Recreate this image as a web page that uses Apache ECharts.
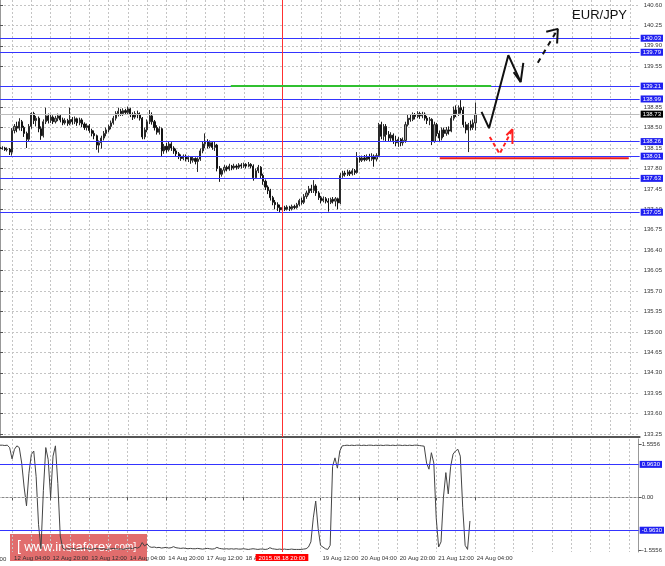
<!DOCTYPE html>
<html><head><meta charset="utf-8">
<script src="https://cdn.jsdelivr.net/npm/echarts@6/dist/echarts.min.js"></script>
<style>html,body{margin:0;padding:0;background:#fff}#c{width:665px;height:566px}</style>
</head><body><div id="c"></div>
<script>
// ---------- data ----------
const timeTicks = ['12 Aug 04:00','12 Aug 20:00','13 Aug 12:00','14 Aug 04:00','14 Aug 20:00','17 Aug 12:00','18 Aug 04:00','18 Aug 20:00','19 Aug 12:00','20 Aug 04:00','20 Aug 20:00','21 Aug 12:00','24 Aug 04:00'];
const firstTickBar = 5, barsPerTick = 16, barsPerGrid = 8, totalSlots = 266;
const markerBar = 117;           // vertical red line: 2015.08.18 20:00
const markerLabel = '2015.08.18 20:00';
const priceTicks = [133.25,133.60,133.95,134.30,134.65,135.00,135.35,135.70,136.05,136.40,136.75,137.10,137.45,137.80,138.15,138.50,138.85,139.20,139.55,139.90,140.25,140.60];
const levels = [140.03,139.79,139.21,138.99,138.26,138.01,137.63,137.05];
const lastPrice = 138.73;
const indTicks = [-1.5556, 0, 1.5556];
const indLevels = [0.9630, -0.9630];
// [open, close, low, high]
const ohlc = [
[138.16,138.14,138.11,138.19],[138.14,138.15,138.12,138.18],[138.15,138.12,138.10,138.17],[138.12,138.13,138.09,138.16],[138.13,138.08,138.03,138.15],
[138.08,138.45,138.02,138.49],[138.45,138.52,138.40,138.56],[138.52,138.49,138.42,138.60],[138.49,138.60,138.45,138.66],[138.60,138.50,138.44,138.63],
[138.50,138.40,138.34,138.53],[138.40,138.30,138.15,138.43],[138.30,138.52,138.27,138.56],[138.52,138.74,138.48,138.76],[138.74,138.62,138.56,138.77],
[138.62,138.66,138.52,138.70],[138.66,138.48,138.42,138.69],[138.48,138.36,138.29,138.52],[138.36,138.60,138.33,138.64],[138.60,138.70,138.56,138.84],
[138.70,138.62,138.57,138.74],[138.62,138.68,138.58,138.72],[138.68,138.60,138.56,138.71],[138.60,138.66,138.57,138.70],[138.66,138.70,138.61,138.74],
[138.70,138.63,138.59,138.73],[138.63,138.58,138.54,138.67],[138.58,138.62,138.55,138.66],[138.62,138.57,138.53,138.65],[138.57,138.64,138.54,138.84],
[138.64,138.60,138.55,138.68],[138.60,138.65,138.56,138.69],[138.65,138.58,138.53,138.67],[138.58,138.63,138.54,138.67],[138.63,138.56,138.51,138.66],
[138.56,138.50,138.46,138.59],[138.50,138.53,138.45,138.57],[138.53,138.45,138.41,138.56],[138.45,138.40,138.35,138.48],[138.40,138.36,138.30,138.45],
[138.36,138.20,138.12,138.38],[138.20,138.24,138.07,138.28],[138.24,138.32,138.14,138.36],[138.32,138.40,138.28,138.44],[138.40,138.46,138.35,138.50],
[138.46,138.52,138.42,138.55],[138.52,138.58,138.47,138.62],[138.58,138.66,138.55,138.70],[138.66,138.74,138.62,138.78],[138.74,138.78,138.69,138.84],
[138.78,138.74,138.70,138.82],[138.74,138.79,138.70,138.83],[138.79,138.76,138.72,138.82],[138.76,138.82,138.73,138.86],[138.82,138.72,138.68,138.84],
[138.72,138.68,138.63,138.76],[138.68,138.74,138.65,138.78],[138.74,138.72,138.66,138.79],[138.72,138.66,138.62,138.76],[138.66,138.34,138.30,138.68],
[138.34,138.46,138.30,138.50],[138.46,138.60,138.42,138.64],[138.60,138.70,138.56,138.80],[138.70,138.60,138.55,138.76],[138.60,138.50,138.45,138.63],
[138.50,138.42,138.38,138.54],[138.42,138.48,138.38,138.52],[138.48,138.10,138.00,138.50],[138.10,138.18,138.05,138.22],[138.18,138.12,138.07,138.24],
[138.12,138.22,138.09,138.27],[138.22,138.15,138.10,138.25],[138.15,138.10,138.05,138.18],[138.10,138.05,138.00,138.14],[138.05,138.00,137.96,138.08],
[138.00,137.97,137.93,138.04],[137.97,138.01,137.94,138.04],[138.01,137.96,137.92,138.04],[137.96,137.99,137.91,138.02],[137.99,137.94,137.88,138.01],
[137.94,137.97,137.90,138.00],[137.97,137.92,137.87,137.99],[137.92,137.96,137.74,137.99],[137.96,138.10,137.93,138.14],[138.10,138.22,138.06,138.26],
[138.22,138.26,138.15,138.40],[138.26,138.18,138.14,138.30],[138.18,138.24,138.15,138.28],[138.24,138.16,138.12,138.27],[138.16,138.20,138.10,138.27],
[138.20,137.80,137.75,138.22],[137.80,137.70,137.57,137.84],[137.70,137.77,137.66,137.80],[137.77,137.82,137.73,137.86],[137.82,137.79,137.75,137.85],
[137.79,137.84,137.76,137.88],[137.84,137.81,137.77,137.86],[137.81,137.84,137.78,137.88],[137.84,137.82,137.78,137.87],[137.82,137.86,137.79,137.89],
[137.86,137.84,137.80,137.89],[137.84,137.87,137.81,137.90],[137.87,137.84,137.80,137.89],[137.84,137.87,137.82,137.91],[137.87,137.84,137.80,137.89],
[137.84,137.64,137.59,137.87],[137.64,137.76,137.62,137.80],[137.76,137.82,137.72,137.86],[137.82,137.68,137.63,137.84],[137.68,137.58,137.52,137.71],
[137.58,137.48,137.43,137.61],[137.48,137.42,137.36,137.51],[137.42,137.30,137.25,137.45],[137.30,137.22,137.17,137.33],[137.22,137.18,137.10,137.26],
[137.18,137.13,137.07,137.22],[137.13,137.09,137.05,137.18],[137.09,137.13,137.06,137.17],[137.13,137.10,137.07,137.16],[137.10,137.14,137.08,137.17],
[137.14,137.11,137.07,137.16],[137.11,137.15,137.08,137.18],[137.15,137.13,137.10,137.18],[137.13,137.18,137.11,137.21],[137.18,137.25,137.15,137.28],
[137.25,137.22,137.18,137.30],[137.22,137.32,137.19,137.36],[137.32,137.38,137.28,137.42],[137.38,137.45,137.34,137.50],[137.45,137.42,137.38,137.52],
[137.42,137.50,137.38,137.60],[137.50,137.38,137.33,137.53],[137.38,137.30,137.26,137.41],[137.30,137.25,137.20,137.33],[137.25,137.28,137.22,137.32],
[137.28,137.24,137.20,137.31],[137.24,137.22,137.06,137.29],[137.22,137.27,137.19,137.30],[137.27,137.24,137.20,137.31],[137.24,137.28,137.15,137.31],
[137.28,137.21,137.10,137.30],[137.21,137.68,137.19,137.72],[137.68,137.72,137.64,137.76],[137.72,137.70,137.66,137.76],[137.70,137.74,137.67,137.78],
[137.74,137.71,137.67,137.77],[137.71,137.76,137.68,137.80],[137.76,137.73,137.69,137.79],[137.73,137.98,137.71,138.08],[137.98,137.94,137.90,138.02],
[137.94,137.98,137.91,138.02],[137.98,137.95,137.92,138.03],[137.95,138.00,137.93,138.04],[138.00,137.96,137.92,138.05],[137.96,138.01,137.93,138.06],
[138.01,137.96,137.83,138.04],[137.96,138.02,137.92,138.06],[138.02,138.55,138.00,138.58],[138.55,138.35,138.30,138.60],[138.35,138.52,138.28,138.56],
[138.52,138.38,138.26,138.56],[138.38,138.32,138.27,138.44],[138.32,138.37,138.26,138.42],[138.37,138.28,138.22,138.40],[138.28,138.24,138.18,138.36],
[138.24,138.30,138.17,138.34],[138.30,138.24,138.18,138.32],[138.24,138.28,138.19,138.33],[138.28,138.55,138.24,138.60],[138.55,138.66,138.52,138.72],
[138.66,138.64,138.60,138.72],[138.64,138.72,138.61,138.76],[138.72,138.69,138.64,138.75],[138.69,138.74,138.66,138.78],[138.74,138.70,138.65,138.77],
[138.70,138.73,138.66,138.77],[138.73,138.66,138.62,138.76],[138.66,138.62,138.56,138.70],[138.62,138.64,138.54,138.68],[138.64,138.26,138.20,138.66],
[138.26,138.55,138.24,138.60],[138.55,138.40,138.35,138.58],[138.40,138.32,138.25,138.45],[138.32,138.46,138.28,138.50],[138.46,138.40,138.34,138.50],
[138.40,138.46,138.36,138.51],[138.46,138.44,138.38,138.52],[138.44,138.66,138.42,138.70],[138.66,138.80,138.62,138.86],[138.80,138.74,138.68,138.88],
[138.74,138.84,138.70,138.88],[138.84,138.80,138.74,138.97],[138.80,138.55,138.50,138.86],[138.55,138.46,138.40,138.60],[138.46,138.55,138.08,138.58],
[138.55,138.50,138.45,138.62],[138.50,138.58,138.46,138.64],[138.58,138.73,138.45,138.93]
];
const indicator = [
1.52,1.52,1.51,1.52,1.45,1.12,1.40,1.50,1.45,1.00,
0.30,-0.25,0.70,1.25,1.35,0.60,-0.80,-1.50,0.20,1.45,
1.10,0.00,1.20,1.50,0.40,-1.13,-1.48,-1.52,-1.50,-1.51,
-1.49,-1.50,-1.52,-1.51,-1.50,-1.48,-1.50,-1.51,-1.52,-1.50,
-1.49,-1.50,-1.51,-1.50,-1.52,-1.51,-1.50,-1.49,-1.50,-1.51,
-1.50,-1.52,-1.50,-1.49,-1.48,-1.50,-1.46,-1.48,-1.45,-1.32,
-1.42,-1.36,-1.44,-1.46,-1.45,-1.47,-1.46,-1.48,-1.47,-1.46,
-1.48,-1.47,-1.44,-1.47,-1.48,-1.49,-1.48,-1.49,-1.50,-1.49,
-1.50,-1.50,-1.49,-1.50,-1.51,-1.50,-1.49,-1.50,-1.51,-1.50,
-1.46,-1.49,-1.50,-1.51,-1.50,-1.51,-1.50,-1.51,-1.50,-1.51,
-1.51,-1.50,-1.51,-1.52,-1.51,-1.50,-1.51,-1.52,-1.51,-1.51,
-1.52,-1.51,-1.47,-1.50,-1.51,-1.52,-1.51,-1.52,-1.51,-1.52,
-1.52,-1.51,-1.52,-1.52,-1.52,-1.52,-1.51,-1.50,-1.45,-1.30,
-0.60,-0.11,-0.90,-1.40,-1.45,-1.50,-1.52,-1.40,0.90,1.15,
0.85,1.35,1.50,1.51,1.52,1.51,1.52,1.51,1.52,1.52,
1.51,1.52,1.51,1.52,1.52,1.51,1.52,1.51,1.52,1.51,
1.52,1.52,1.51,1.52,1.51,1.52,1.52,1.51,1.52,1.51,
1.52,1.51,1.52,1.52,1.51,1.50,1.49,1.00,0.82,1.30,
1.00,-0.60,-1.45,-1.30,0.00,0.72,0.10,0.90,1.26,1.35,
1.40,1.20,-0.30,-1.40,-1.52,-0.69
];
// annotations: [bar position, price]
const greenLevel = [[95.6,139.21],[203.5,139.21]];
const redLevel = [[182.2,137.975],[260.5,137.975]];
const blackPath = [[199.5,138.77],[202.6,138.49],[210.6,139.74],[215.7,139.28]];
const blackHead = [[212.8,139.45],[215.7,139.28],[216.8,139.61]];
const dashPath = [[222.8,139.61],[231.1,140.19]];
const dashHead = [[226.3,140.14],[231.1,140.19],[230.8,139.94]];
const redPath = [[202.9,138.34],[207.0,138.05],[212.3,138.47]];
const redHead = [[209.8,138.37],[212.3,138.47],[212.3,138.22]];

// ---------- chart ----------
const FONT = 'Liberation Sans';
const categories = [];
for (let i = 0; i < totalSlots; i++) {
  const k = (i - firstTickBar) / barsPerTick;
  categories.push(Number.isInteger(k) && k >= 0 && k < timeTicks.length ? timeTicks[k] : '');
}
const isGrid = (i) => (i - firstTickBar) % barsPerGrid === 0;
const isLabel = (i) => categories[i] !== '' && i !== markerBar;
const gridLine = {show: true, interval: isGrid, lineStyle: {color: '#c4c4c4', type: [2, 2], width: 1}};
const chart = echarts.init(document.getElementById('c'), null, {renderer: 'canvas'});

function levelLine(v, color, bg) {
  return {yAxis: v, lineStyle: {color: color, width: 1, type: 'solid'},
    label: {formatter: v.toFixed(2), backgroundColor: bg}};
}
function annot(data, color, type, width) {
  return {type: 'line', xAxisIndex: 1, yAxisIndex: 0, data: data, symbol: 'none', silent: true,
    lineStyle: {color: color, width: width, type: type}, z: 10, animation: false};
}

chart.setOption({
  animation: false,
  backgroundColor: '#ffffff',
  title: {text: 'EUR/JPY', right: 33, top: 4,
    textStyle: {fontFamily: FONT, fontSize: 13, fontWeight: 'normal', color: '#111'}},
  grid: [
    {left: 0, right: 25, top: 0, height: 437},
    {left: 0, right: 25, top: 439, height: 113}
  ],
  xAxis: [
    {type: 'category', gridIndex: 0, data: categories, boundaryGap: false,
     axisLine: {show: true, lineStyle: {color: '#555', width: 2}}, axisTick: {show: false},
     axisLabel: {show: false}, splitLine: gridLine},
    {type: 'value', gridIndex: 0, min: 0, max: totalSlots - 1, show: false},
    {type: 'category', gridIndex: 1, data: categories, boundaryGap: false,
     axisLine: {show: true, lineStyle: {color: '#888', width: 1}},
     axisTick: {show: true, interval: isLabel, length: 3, lineStyle: {color: '#555'}},
     axisLabel: {show: true, interval: isLabel, align: 'left', margin: 3, padding: [0, 0, 0, 2],
       fontFamily: FONT, fontSize: 6, color: '#333'},
     splitLine: gridLine}
  ],
  yAxis: [
    {type: 'value', gridIndex: 0, position: 'right', min: 133.20, max: 140.685, scale: true,
     axisLine: {show: true, lineStyle: {color: '#999', width: 1}},
     axisTick: {show: true, customValues: priceTicks, length: 3, lineStyle: {color: '#555'}},
     axisLabel: {customValues: priceTicks, formatter: (v) => v.toFixed(2), margin: 4,
       fontFamily: FONT, fontSize: 6, color: '#333'},
     splitLine: {show: true, lineStyle: {color: '#c4c4c4', type: [2, 2], width: 1}}},
    {type: 'value', gridIndex: 1, position: 'right', min: -1.595, max: 1.70,
     axisLine: {show: true, lineStyle: {color: '#999', width: 1}},
     axisTick: {show: true, customValues: indTicks, length: 3, lineStyle: {color: '#555'}},
     axisLabel: {customValues: indTicks, formatter: (v) => v === 0 ? '0.00' : v.toFixed(4), margin: 3,
       fontFamily: FONT, fontSize: 6, color: '#333'},
     splitLine: {show: false}}
  ],
  series: [
    {type: 'candlestick', xAxisIndex: 0, yAxisIndex: 0, data: ohlc, barWidth: 1.6, silent: true,
     itemStyle: {color: '#9c9c9c', color0: '#151515', borderColor: '#2a2a2a', borderColor0: '#151515', borderWidth: 1},
     markLine: {silent: true, symbol: ['none', 'none'], animation: false,
       label: {position: 'end', distance: 1, color: '#fff', fontFamily: FONT, fontSize: 6, padding: [1, 2, 0, 2]},
       data: levels.map(v => levelLine(v, '#3434ff', '#2020f0'))
         .concat([levelLine(lastPrice, '#bdbdbd', '#000000'),
           {xAxis: markerBar, lineStyle: {color: '#ff3030', width: 1, type: 'solid'}, label: {show: false}}])}},
    {type: 'line', xAxisIndex: 2, yAxisIndex: 1, data: indicator, symbol: 'none', silent: true,
     lineStyle: {color: '#444', width: 1},
     markLine: {silent: true, symbol: ['none', 'none'], animation: false,
       label: {position: 'end', distance: 1, color: '#fff', fontFamily: FONT, fontSize: 6, padding: [1, 2, 0, 2]},
       data: indLevels.map(v => ({yAxis: v, lineStyle: {color: '#3434ff', width: 1, type: 'solid'},
           label: {formatter: v.toFixed(4), backgroundColor: '#2020f0'}}))
         .concat([{yAxis: 0, lineStyle: {color: '#c4c4c4', width: 1, type: [2, 2]}, label: {show: false}},
           {xAxis: markerBar, lineStyle: {color: '#ff3030', width: 1, type: 'solid'},
            label: {show: true, position: 'start', distance: 2, formatter: markerLabel,
              backgroundColor: '#ff0000', color: '#fff', padding: [1, 3, 0, 3]}}])}},
    annot(greenLevel, '#30c030', 'solid', 2),
    annot(redLevel, '#ee1c1c', 'solid', 2),
    annot(blackPath, '#111', 'solid', 2),
    annot(blackHead, '#111', 'solid', 2),
    annot(dashPath, '#111', [5, 5], 2),
    annot(dashHead, '#111', 'solid', 2),
    annot(redPath, '#ff2020', [4, 3], 2),
    annot(redHead, '#ff2020', 'solid', 2)
  ],
  graphic: [
    {type: 'text', left: -29, top: 556, silent: true,
     style: {text: '11 Aug 12:00', fontFamily: FONT, fontSize: 6, fill: '#333'}},
    {type: 'group', left: 10, top: 534, silent: true, z: 100, children: [
      {type: 'rect', shape: {x: 0, y: 0, width: 137, height: 27},
       style: {fill: 'rgba(214,52,52,0.72)'}},
      {type: 'text', x: 7, y: 13, style: {
        text: '{b|[} {a|www.instaforex}{c|.com}{d|]}', verticalAlign: 'middle', fill: '#fff',
        rich: {a: {fontFamily: FONT, fontSize: 13, fill: '#fff'}, b: {fontFamily: FONT, fontSize: 14, fill: '#fff'},
               c: {fontFamily: FONT, fontSize: 10, fill: '#fff'}, d: {fontFamily: FONT, fontSize: 11, fill: '#fff'}}}}
    ]}
  ]
});
</script></body></html>
